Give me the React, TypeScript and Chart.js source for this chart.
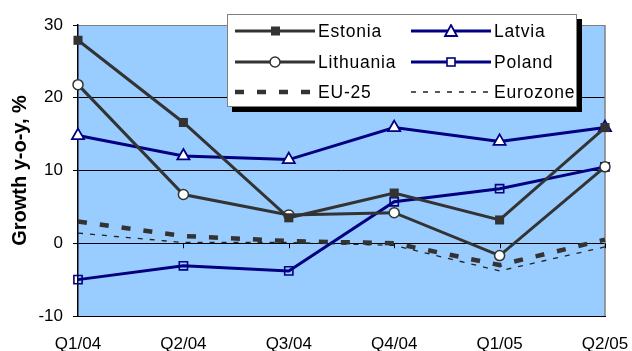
import React, { useEffect, useRef } from "react";
import { Chart, registerables } from "chart.js";

Chart.register(...registerables);

const categories = ["Q1/04", "Q2/04", "Q3/04", "Q4/04", "Q1/05", "Q2/05"];
const estonia = [27.9, 16.6, 3.5, 6.9, 3.2, 15.9];
const latvia = [14.8, 12.0, 11.5, 15.9, 14.0, 15.9];
const lithuania = [21.8, 6.7, 3.9, 4.2, -1.7, 10.5];
const poland = [-5.0, -3.1, -3.8, 5.7, 7.5, 10.5];
const eu25 = [3.0, 1.0, 0.3, 0.0, -3.0, 0.5];
const eurozone = [1.4, 0.1, 0.1, -0.3, -3.8, -0.5];
const yTicks = [-10, 0, 10, 20, 30];

const GRAY = "#333333";
const NAVY = "#000080";
const BG = "#99CCFF";
const FONT = "'Liberation Sans', Arial, sans-serif";

const framePlugin = {
  id: "frame",
  beforeDraw(chart: any) {
    const { ctx, chartArea: a } = chart;
    ctx.save();
    ctx.fillStyle = BG;
    ctx.fillRect(a.left, a.top, a.right - a.left, a.bottom - a.top);
    ctx.restore();
  },
  beforeDatasetsDraw(chart: any) {
    const { ctx, chartArea: a, scales } = chart;
    ctx.save();
    ctx.strokeStyle = "#808080";
    ctx.lineWidth = 1.5;
    ctx.beginPath();
    ctx.moveTo(a.right, a.top);
    ctx.lineTo(a.right, a.bottom);
    ctx.stroke();
    const y0 = scales.y.getPixelForValue(0);
    ctx.strokeStyle = "#000";
    ctx.lineWidth = 1;
    categories.forEach((_, i) => {
      if (i === 0) return;
      const x = Math.round(scales.x.getPixelForValue(i)) + 0.5;
      ctx.beginPath();
      ctx.moveTo(x, y0);
      ctx.lineTo(x, y0 + 5);
      ctx.stroke();
    });
    ctx.restore();
  },
};

function LegendSample({ color, width, dash, marker }: any) {
  return (
    <svg width={80} height={14} style={{ display: "block" }}>
      <line x1={0} y1={7} x2={80} y2={7} stroke={color} strokeWidth={width} strokeDasharray={dash} />
      {marker === "rect" && <rect x={36} y={2.5} width={9} height={9} fill={GRAY} />}
      {marker === "circle" && <circle cx={40} cy={7} r={5} fill="#fff" stroke={GRAY} strokeWidth={1.5} />}
      {marker === "triangle" && (
        <polygon points="40,1 46,12 34,12" fill="#fff" stroke={NAVY} strokeWidth={1.8} />
      )}
      {marker === "square" && <rect x={36} y={3} width={8} height={8} fill="#fff" stroke={NAVY} strokeWidth={1.6} />}
    </svg>
  );
}

const legendItems = [
  { label: "Estonia", color: GRAY, width: 3, marker: "rect", col: 0, row: 0 },
  { label: "Latvia", color: NAVY, width: 3, marker: "triangle", col: 1, row: 0 },
  { label: "Lithuania", color: GRAY, width: 3, marker: "circle", col: 0, row: 1 },
  { label: "Poland", color: NAVY, width: 3, marker: "square", col: 1, row: 1 },
  { label: "EU-25", color: GRAY, width: 4.5, dash: "9 13", col: 0, row: 2 },
  { label: "Eurozone", color: "#222", width: 1.3, dash: "5 7", col: 1, row: 2 },
];

export default function App() {
  const ref = useRef<HTMLCanvasElement | null>(null);

  useEffect(() => {
    document.body.style.margin = "0";
    const canvas = ref.current;
    if (!canvas) return;
    const ds = (label: string, data: number[], extra: any) => ({
      label,
      data,
      clip: false,
      tension: 0,
      fill: false,
      ...extra,
    });
    const chart = new Chart(canvas, {
      type: "line",
      data: {
        labels: categories,
        datasets: [
          ds("Eurozone", eurozone, {
            borderColor: "#222",
            borderWidth: 1.3,
            borderDash: [5, 7],
            pointRadius: 0,
          }),
          ds("EU-25", eu25, {
            borderColor: GRAY,
            borderWidth: 4.5,
            borderDash: [9, 13],
            borderCapStyle: "butt",
            pointRadius: 0,
          }),
          ds("Estonia", estonia, {
            borderColor: GRAY,
            borderWidth: 3,
            pointStyle: "rect",
            pointRadius: 6.4,
            pointBackgroundColor: GRAY,
            pointBorderColor: GRAY,
            pointBorderWidth: 0,
          }),
          ds("Lithuania", lithuania, {
            borderColor: GRAY,
            borderWidth: 3,
            pointStyle: "circle",
            pointRadius: 5,
            pointBackgroundColor: "#fff",
            pointBorderColor: GRAY,
            pointBorderWidth: 1.5,
          }),
          ds("Poland", poland, {
            borderColor: NAVY,
            borderWidth: 3,
            pointStyle: "rect",
            pointRadius: 5.8,
            pointBackgroundColor: "rgba(0,0,0,0)",
            pointBorderColor: NAVY,
            pointBorderWidth: 1.6,
          }),
          ds("Latvia", latvia, {
            borderColor: NAVY,
            borderWidth: 3,
            pointStyle: "triangle",
            pointRadius: 7,
            pointBackgroundColor: "#fff",
            pointBorderColor: NAVY,
            pointBorderWidth: 1.8,
          }),
        ],
      },
      options: {
        animation: false,
        responsive: false,
        maintainAspectRatio: false,
        layout: { padding: { left: 0, top: 25, right: 27, bottom: 0 } },
        plugins: {
          legend: { display: false },
          tooltip: { enabled: false },
        },
        scales: {
          x: {
            type: "category",
            offset: false,
            grid: { display: false, drawTicks: false },
            border: { display: true, color: "#000", width: 1 },
            ticks: {
              color: "#000",
              font: { family: FONT, size: 17 },
              padding: 18,
              maxRotation: 0,
              autoSkip: false,
            },
            afterFit(scale: any) {
              scale.height = 35;
              scale.paddingLeft = 0;
              scale.paddingRight = 0;
            },
          },
          y: {
            min: -10,
            max: 30,
            afterBuildTicks(scale: any) {
              scale.ticks = yTicks.map((v) => ({ value: v }));
            },
            grid: {
              color: (c: any) => (c.tick && c.tick.value === 30 ? "#808080" : "#000"),
              lineWidth: 1,
              tickLength: 5,
              tickColor: "#000",
              drawTicks: true,
            },
            border: { display: true, color: "#000", width: 1.5 },
            ticks: {
              color: "#000",
              font: { family: FONT, size: 17 },
              padding: 10,
            },
            title: {
              display: true,
              text: "Growth y-o-y, %",
              color: "#000",
              font: { family: FONT, size: 20, weight: "bold" },
              padding: { top: 8, bottom: 0 },
            },
            afterFit(scale: any) {
              scale.width = 78;
              scale.paddingTop = 0;
              scale.paddingBottom = 0;
            },
          },
        },
      },
      plugins: [framePlugin],
    } as any);
    return () => chart.destroy();
  }, []);

  return (
    <div style={{ position: "fixed", left: 0, top: 0, width: 632, height: 351, background: "#fff" }}>
      <canvas ref={ref} width={632} height={351} style={{ position: "absolute", left: 0, top: 0 }} />
      <div
        style={{
          position: "absolute",
          left: 227,
          top: 14,
          width: 348,
          height: 91,
          background: "#fff",
          border: "1px solid #808080",
          boxShadow: "5px 5px 0 #000",
          fontFamily: FONT,
          fontSize: 17.5,
          color: "#000",
        }}
      >
        {legendItems.map((it) => (
          <div
            key={it.label}
            style={{
              position: "absolute",
              left: it.col === 0 ? 7 : 183,
              top: 6 + it.row * 30.5,
              height: 20,
              display: "flex",
              alignItems: "center",
              whiteSpace: "nowrap",
            }}
          >
            <LegendSample color={it.color} width={it.width} dash={it.dash} marker={it.marker} />
            <span style={{ marginLeft: 3, letterSpacing: 0.8, lineHeight: "20px" }}>{it.label}</span>
          </div>
        ))}
      </div>
    </div>
  );
}
